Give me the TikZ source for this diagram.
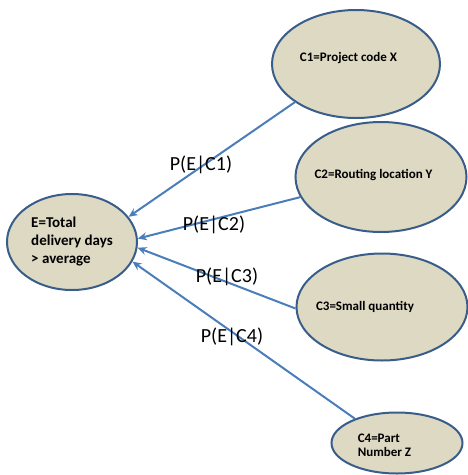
\documentclass[tikz,border=0pt]{standalone}
\usepackage{fontspec}
\setmainfont{Carlito}
\usetikzlibrary{arrows.meta, shapes.geometric, positioning}
\definecolor{nodefill}{RGB}{221,217,195}
\definecolor{nodeline}{RGB}{56,93,138}
\definecolor{arrowblue}{RGB}{74,126,187}
\tikzset{
  cause/.style={ellipse, draw=nodeline, fill=nodefill, line width=2pt, inner sep=0pt},
  causetext/.style={align=left, inner sep=0pt, font=\bfseries\fontsize{13}{14}\selectfont},
  link/.style={draw=arrowblue, line width=2pt, -{Stealth[length=9pt,width=8pt]}},
  prob/.style={inner sep=0pt, font=\fontsize{20}{24}\selectfont}
}

\begin{document}
\begin{tikzpicture}[x=1pt, y=-1pt]
\useasboundingbox (0,0) rectangle (468,475);

% effect
\node[cause, minimum width=130pt, minimum height=96pt, align=left,
  font=\bfseries\fontsize{15}{18}\selectfont] (e) at (72,242)
  {E=Total\\delivery days\\> average};

% causes
\node[cause, minimum width=168pt, minimum height=108pt,
  label={[causetext, xshift=-7.5pt, yshift=6pt]center:C1=Project code X}] (c1) at (356,64) {};
\node[cause, minimum width=171pt, minimum height=110pt,
  label={[causetext, xshift=-7.5pt, yshift=2pt]center:C2=Routing location Y}] (c2) at (381,177) {};
\node[cause, minimum width=171pt, minimum height=107pt,
  label={[causetext, xshift=-17pt]center:C3=Small quantity}] (c3) at (382,307) {};
\node[cause, minimum width=131pt, minimum height=61pt,
  label={[causetext, xshift=-12.5pt, yshift=-2pt]center:{C4=Part\\Number Z}}] (c4) at (397,443) {};

% links and conditional probabilities
\foreach \c/\from/\to/\lx/\ly/\i in {c1/212.6/24.2/201/165/1, c2/194.2/3.3/214/225/2,
                                     c3/181.3/355.8/227/277/3, c4/150.3/342/232/337/4} {
  \draw[link] (\c.\from) -- (e.\to);
  \node[prob] (p\i) at (\lx,\ly) {P(E|C\i)};
}
\end{tikzpicture}
\end{document}
